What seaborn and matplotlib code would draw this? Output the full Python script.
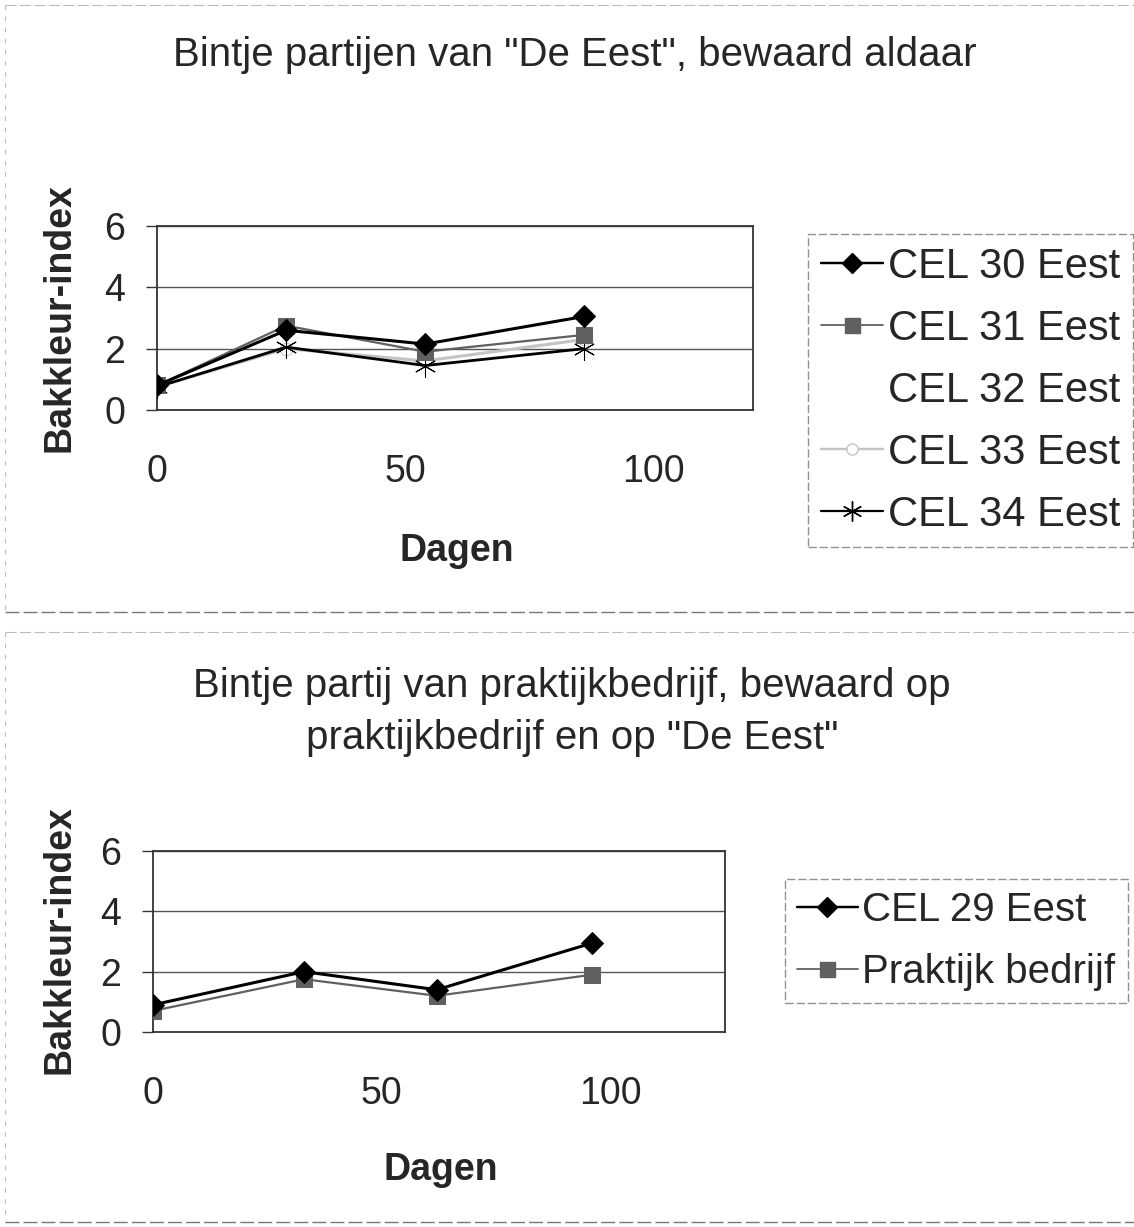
import matplotlib
matplotlib.use("Agg")
import matplotlib.pyplot as plt
from matplotlib.lines import Line2D
import seaborn as sns
import pandas as pd

sns.set_theme(style="white")
plt.rcParams['font.family'] = ['Liberation Sans', 'DejaVu Sans']

# ---- data: top chart ----
top_title = 'Bintje partijen van "De Eest", bewaard aldaar'
top_series = ["CEL 30 Eest", "CEL 31 Eest", "CEL 32 Eest", "CEL 33 Eest", "CEL 34 Eest"]
top_days = [0, 26, 54, 86]
cel30 = [0.8, 2.6, 2.15, 3.05]
cel31 = [0.8, 2.75, 1.9, 2.45]
cel32 = [0.8, 2.5, 1.8, 2.35]
cel33 = [0.75, 2.0, 1.6, 2.3]
cel34 = [0.75, 2.05, 1.45, 2.0]

# ---- data: bottom chart ----
bot_title = 'Bintje partij van praktijkbedrijf, bewaard op\npraktijkbedrijf en op "De Eest"'
bot_series = ["CEL 29 Eest", "Praktijk bedrijf"]
bot_days = [0, 33, 62, 96]
cel29 = [0.9, 2.0, 1.4, 2.95]
praktijk = [0.7, 1.75, 1.2, 1.9]

y_ticks = [0, 2, 4, 6]
x_ticks = [0, 50, 100]
x_label = "Dagen"
y_label = "Bakkleur-index"

top_df = pd.DataFrame({
    "Dagen": top_days * 5,
    "Index": cel30 + cel31 + cel32 + cel33 + cel34,
    "Serie": [s for s in top_series for _ in top_days],
})
bot_df = pd.DataFrame({
    "Dagen": bot_days * 2,
    "Index": cel29 + praktijk,
    "Serie": [s for s in bot_series for _ in bot_days],
})

styles = {
    "CEL 30 Eest": dict(color="black", marker="D", markersize=11, lw=2.2, zorder=6),
    "CEL 31 Eest": dict(color="#606060", marker="s", markersize=12, lw=1.6, zorder=5),
    "CEL 32 Eest": dict(color="white", marker=None, markersize=0, lw=0.0, zorder=1),
    "CEL 33 Eest": dict(color="#c4c4c4", marker="o", markersize=9, lw=2.2, zorder=3,
                        mfc="white", mec="#c4c4c4"),
    "CEL 34 Eest": dict(color="black", marker=(6, 2, 0), markersize=16, lw=2.0, zorder=4),
    "CEL 29 Eest": dict(color="black", marker="D", markersize=11, lw=2.2, zorder=6),
    "Praktijk bedrijf": dict(color="#606060", marker="s", markersize=12, lw=1.6, zorder=5),
}

W, H = 1134, 1227
fig = plt.figure(figsize=(W / 100, H / 100), dpi=100)
fig.patch.set_facecolor("white")


def fx(px):
    return px / W


def fy(py):
    return 1 - py / H


def draw(ax, df, series, xmax):
    handles = []
    for s in series:
        st = dict(styles[s])
        z = st.pop("zorder")
        mfc = st.pop("mfc", st["color"])
        mec = st.pop("mec", st["color"])
        sub = df[df["Serie"] == s]
        if st["lw"] > 0:
            sns.lineplot(data=sub, x="Dagen", y="Index", ax=ax, color=st["color"],
                         marker=st["marker"], markersize=st["markersize"], lw=st["lw"],
                         markerfacecolor=mfc, markeredgecolor=mec, zorder=z, legend=False)
        handles.append(Line2D([0], [0], color=st["color"] if st["lw"] > 0 else "none",
                              marker=st["marker"], markersize=st["markersize"] * 0.9,
                              lw=st["lw"] * 0.8, markerfacecolor=mfc if st["lw"] > 0 else "none",
                              markeredgecolor=mec if st["lw"] > 0 else "none"))
    ax.set_xlim(0, xmax)
    ax.set_ylim(0, 6)
    ax.set_yticks(y_ticks)
    ax.set_xticks(x_ticks)
    ax.yaxis.grid(True, color="#555555", lw=1.0)
    ax.set_axisbelow(True)
    for sp in ax.spines.values():
        sp.set_color("#333333")
        sp.set_linewidth(1.3)
        sp.set_visible(True)
    ax.tick_params(axis="y", length=8, width=1, color="#333333", pad=15,
                   labelsize=27, left=True, direction="out")
    ax.tick_params(axis="x", length=0, pad=32, labelsize=27, bottom=True)
    ax.set_xlabel("")
    ax.set_ylabel("")
    return handles


def style_legend(leg):
    fr = leg.get_frame()
    fr.set_edgecolor("#777777")
    fr.set_linewidth(1.0)
    fr.set_linestyle((0, (6, 2)))


# top axes
ax1 = fig.add_axes([fx(157), fy(410), fx(753 - 157), (410 - 226) / H])
h1 = draw(ax1, top_df, top_series, 120)
fig.text(fx(575), fy(55), top_title, ha="center", va="center", fontsize=29)
fig.text(fx(457), fy(551), x_label, ha="center", va="center", fontsize=27, fontweight="bold")
fig.text(fx(60), fy(318), y_label, ha="center", va="center", fontsize=27,
         fontweight="bold", rotation=90)
leg1 = fig.legend(h1, top_series, loc="upper left", bbox_to_anchor=(fx(808), fy(234)),
                  fontsize=30, frameon=True, fancybox=False, borderpad=0.3,
                  labelspacing=0.53, handlelength=1.5, handletextpad=0.12,
                  borderaxespad=0)
style_legend(leg1)

# bottom axes
ax2 = fig.add_axes([fx(153), fy(1032), fx(725 - 153), (1032 - 851) / H])
h2 = draw(ax2, bot_df, bot_series, 125)
fig.text(fx(572), fy(712), bot_title, ha="center", va="center", fontsize=29,
         linespacing=1.45)
fig.text(fx(441), fy(1170), x_label, ha="center", va="center", fontsize=27, fontweight="bold")
fig.text(fx(60), fy(940), y_label, ha="center", va="center", fontsize=27,
         fontweight="bold", rotation=90)
leg2 = fig.legend(h2, bot_series, loc="upper left", bbox_to_anchor=(fx(785), fy(879)),
                  fontsize=29, frameon=True, fancybox=False, borderpad=0.3,
                  labelspacing=0.6, handlelength=1.5, handletextpad=0.12,
                  borderaxespad=0)
style_legend(leg2)

# chart area borders (dashed, faint)
for (x0, y0, x1, y1) in [(5, 5, 1134, 612), (5, 632, 1134, 1222)]:
    fig.add_artist(Line2D([fx(x0), fx(x1)], [fy(y1), fy(y1)], transform=fig.transFigure,
                          color="#777777", lw=1.0, ls=(0, (10, 3))))
    fig.add_artist(Line2D([fx(x0), fx(x1)], [fy(y0), fy(y0)], transform=fig.transFigure,
                          color="#bbbbbb", lw=0.8, ls=(0, (10, 3))))
    fig.add_artist(Line2D([fx(x0), fx(x0)], [fy(y0), fy(y1)], transform=fig.transFigure,
                          color="#bbbbbb", lw=0.8, ls=(0, (4, 6))))

fig.savefig("out.png", dpi=100, facecolor="white")
